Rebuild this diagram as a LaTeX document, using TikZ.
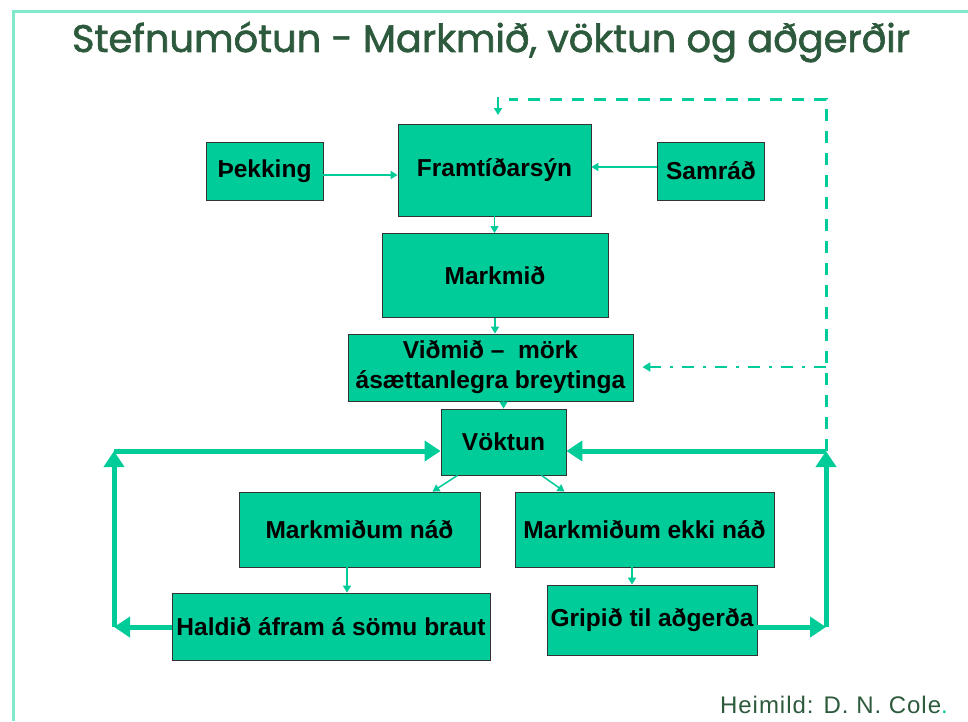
\documentclass[tikz,border=0pt]{standalone}
\usepackage{fontspec}
\setmainfont{Liberation Sans}
\newfontfamily\titlefont[FakeBold=1.6]{Poppins}
\usetikzlibrary{arrows.meta}
\definecolor{boxfill}{RGB}{0,204,153}
\definecolor{lnk}{RGB}{0,204,153}
\definecolor{framecol}{RGB}{128,232,204}
\definecolor{ttl}{RGB}{45,90,60}
\begin{document}
\begin{tikzpicture}[x=1pt,y=-1pt,
  box/.style={draw=black!80, line width=0.8pt, fill=boxfill, inner sep=0pt, align=center,
    font=\fontsize{24.5}{30}\selectfont\bfseries},
  thinarrow/.style={draw=lnk, line width=1.5pt, -{Triangle[length=7pt,width=8pt]}},
  thickline/.style={draw=lnk, line width=5pt},
  thickarrow/.style={thickline, -{Triangle[length=16pt,width=20pt]}},
  dashline/.style={draw=lnk, line width=3pt, dash pattern=on 12pt off 10pt},
  dashdotline/.style={draw=lnk, line width=2.5pt, dash pattern=on 12pt off 9pt on 3pt off 9pt,
    -{Triangle[length=8pt,width=9pt]}}]
\useasboundingbox (0,0) rectangle (968,721);
% frame
\draw[framecol, line width=3pt] (968,11) -- (13,11) -- (13,721);
% title
\node[text=ttl, anchor=center] (title) at (491,42)
  {\resizebox{838pt}{!}{\titlefont Stefnumótun - Markmið, vöktun og aðgerðir}};
% boxes
\node[box, minimum width=117pt, minimum height=58pt] (thek) at (264.5,171) {Þekking};
\node[box, minimum width=193pt, minimum height=92pt] (fram) at (494.5,170) {Framtíðarsýn};
\node[box, minimum width=107pt, minimum height=58pt] (samr) at (711,171) {Samráð};
\node[box, minimum width=226pt, minimum height=84pt] (mark) at (495,275.5) {Markmið};
\node[box, minimum width=285pt, minimum height=67pt] (vid) at (490.5,367.5) {Viðmið –\ \ mörk\\ásættanlegra breytinga};
\node[box, minimum width=125pt, minimum height=66pt] (vokt) at (503.5,442) {Vöktun};
\node[box, minimum width=241pt, minimum height=75pt] (nad) at (359.5,529.5) {Markmiðum náð};
\node[box, minimum width=259pt, minimum height=75pt] (ekki) at (644.5,529.5) {Markmiðum ekki náð};
\node[box, minimum width=318pt, minimum height=67pt] (hald) at (331,626.5) {Haldið áfram á sömu braut};
\node[box, minimum width=210pt, minimum height=70pt] (grip) at (652,620) {Gripið til aðgerða};
% source
\node[anchor=base east, text=ttl, font=\fontsize{24}{28}\selectfont\addfontfeature{LetterSpace=4}, inner sep=0pt] (src) at (948,713)
  {Heimild: D. N. Cole\textcolor{lnk}{.}};
% thin arrows
\draw[thinarrow] ([yshift=-4pt]thek.east) -- ([yshift=-4pt]thek.east -| fram.west);
\draw[thinarrow] ([yshift=4pt]samr.west) -- ([yshift=4pt]samr.west -| fram.east);
\draw[thinarrow] (fram.south) -- (fram.south |- mark.north);
\draw[thinarrow] (mark.south) -- (mark.south |- vid.north);
\draw[thinarrow] (vid.south -| vokt.north) -- (vokt.north);
\draw[thinarrow] ([xshift=-46pt]vokt.south) -- ([xshift=73pt]nad.north);
\draw[thinarrow] ([xshift=38pt]vokt.south) -- ([xshift=-80pt]ekki.north);
\draw[thinarrow] ([xshift=-12.5pt]nad.south) -- ([xshift=-12.5pt]nad.south |- hald.north);
\draw[thinarrow] ([xshift=-12.5pt]ekki.south) -- ([xshift=-12.5pt]ekki.south |- grip.north);
% thick loops
\coordinate (L1) at (114,451);
\coordinate (L2) at (114,627);
\coordinate (R1) at (826,451);
\coordinate (R2) at (826,627);
\draw[thickarrow] (hald.west |- L2) -- (L2);
\draw[thickarrow] (L2) -- (L1);
\draw[thickarrow] (L1) -- (L1 -| vokt.west);
\draw[thickarrow] (grip.east |- R2) -- (R2);
\draw[thickarrow] (R2) -- (R1);
\draw[thickarrow] (R1) -- (R1 -| vokt.east);
% dashed feedback
\coordinate (D1) at (826,99);
\coordinate (D2) at (509,99);
\coordinate (A1) at (498,97);
\coordinate (A2) at (498,115);
\draw[dashline] (R1) -- (D1) -- (D2);
\draw[thinarrow] (A1) -- (A2);
\coordinate (E1) at (826,367);
\draw[dashdotline] (E1) -- ([xshift=9pt]E1 -| vid.east);
\end{tikzpicture}
\end{document}
